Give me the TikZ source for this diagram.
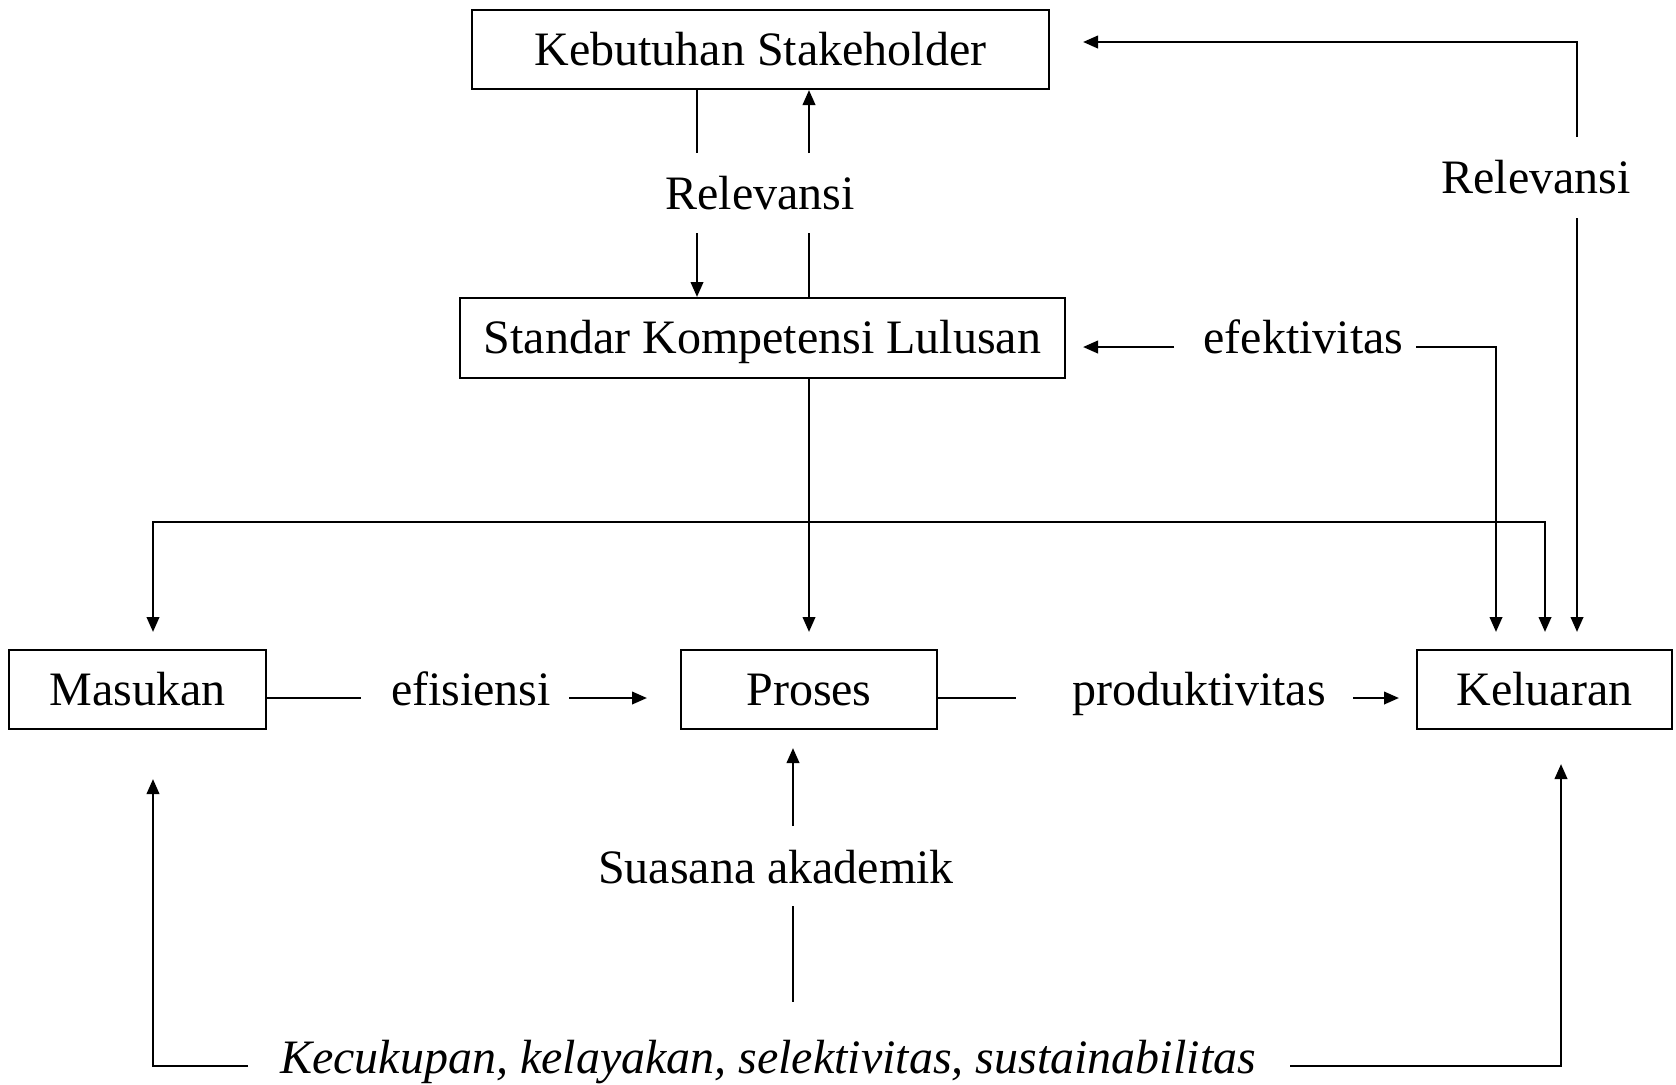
\documentclass[tikz,border=0pt]{standalone}
\usepackage{fontspec}
\setmainfont{Liberation Serif}
\usetikzlibrary{arrows.meta}
\begin{document}
\begin{tikzpicture}[x=0.5pt,y=-0.5pt,
  font=\fontsize{24}{28}\selectfont,
  box/.style={draw, line width=1pt, inner sep=0pt, text height=21pt, text depth=5.3pt, minimum height=39.5pt},
  lbl/.style={anchor=base, inner sep=0pt},
  ln/.style={line width=1.3pt},
  tip/.tip={Triangle[length=7.5pt,width=6.2pt]},
  arr/.style={ln, -tip},
]
\fill[white] (0,0) rectangle (1676,1084);
\path[use as bounding box] (0,0) rectangle (1676,1084);

% boxes
\node[box, minimum width=288.5pt] (ks) at (760.5,49.5) {Kebutuhan Stakeholder};
\node[box, minimum width=302.5pt, minimum height=40pt] (skl) at (762.5,338) {Standar Kompetensi Lulusan};
\node[box, minimum width=128.5pt] (mas) at (137.5,689.5) {Masukan};
\node[box, minimum width=128pt] (pro) at (809,689.5) {Proses};
\node[box, minimum width=127.5pt] (kel) at (1544.5,689.5) {Keluaran};

% labels
\node[lbl] (rel1) at (760,209) {Relevansi};
\node[lbl] (rel2) at (1536,193) {Relevansi};
\node[lbl] (efek) at (1303.5,353) {efektivitas};
\node[lbl] (efis) at (471,705) {efisiensi};
\node[lbl] (prod) at (1199,705) {produktivitas};
\node[lbl] (sua) at (776,883) {Suasana akademik};
\node[lbl, font=\fontsize{24}{28}\selectfont\itshape] (kec) at (768,1073) {Kecukupan, kelayakan, selektivitas, sustainabilitas};

% Relevansi between KS and SKL
\coordinate (a1) at (697,153);
\coordinate (a2) at (809,153);
\coordinate (a3) at (697,233);
\coordinate (a4) at (809,233);
\draw[ln] (a1 |- ks.south) -- (a1);
\draw[arr] (a2) -- (a2 |- ks.south);
\draw[arr] (a3) -- (a3 |- skl.north);
\draw[ln] (a4) -- (a4 |- skl.north);

% right Relevansi
\coordinate (b1) at (1577,137);
\coordinate (b2) at (1577,42);
\coordinate (b4) at (1577,218);
\draw[arr, shorten >=16.5pt] (b1) -- (b2) -- (b2 -| ks.east);
\draw[arr, shorten >=8.5pt] (b4) -- (b4 |- kel.north);

% efektivitas
\coordinate (c1) at (1174,347);
\coordinate (c2) at (1416,347);
\coordinate (c3) at (1496,347);
\draw[arr, shorten >=8.5pt] (c1) -- (c1 -| skl.east);
\draw[arr, shorten >=8.5pt] (c2) -- (c3) -- (c3 |- kel.north);

% SKL to Proses
\draw[arr, shorten >=8.5pt] (a4 |- skl.south) -- (a4 |- pro.north);

% big loop
\coordinate (d1) at (153,522);
\coordinate (d2) at (1545,522);
\draw[ln, tip-tip, shorten <=8.5pt, shorten >=8.5pt] (d1 |- mas.north) -- (d1) -- (d2) -- (d2 |- kel.north);

% middle row
\coordinate (e1) at (361,698);
\coordinate (e2) at (569,698);
\coordinate (e3) at (1016,698);
\coordinate (e4) at (1353,698);
\draw[ln] (e1 -| mas.east) -- (e1);
\draw[arr, shorten >=16.5pt] (e2) -- (e2 -| pro.west);
\draw[ln] (e3 -| pro.east) -- (e3);
\draw[arr, shorten >=8.5pt] (e4) -- (e4 -| kel.west);

% bottom
\coordinate (f1) at (248,1066);
\coordinate (f2) at (153,1066);
\coordinate (f3) at (1290,1066);
\coordinate (f4) at (1561,1066);
\draw[arr, shorten >=24.5pt] (f1) -- (f2) -- (f2 |- mas.south);
\draw[arr, shorten >=17pt] (f3) -- (f4) -- (f4 |- kel.south);

% Suasana akademik
\coordinate (g1) at (793,826);
\coordinate (g2) at (793,906);
\coordinate (g3) at (793,1002);
\draw[arr, shorten >=9pt] (g1) -- (g1 |- pro.south);
\draw[ln] (g2) -- (g3);
\end{tikzpicture}
\end{document}
